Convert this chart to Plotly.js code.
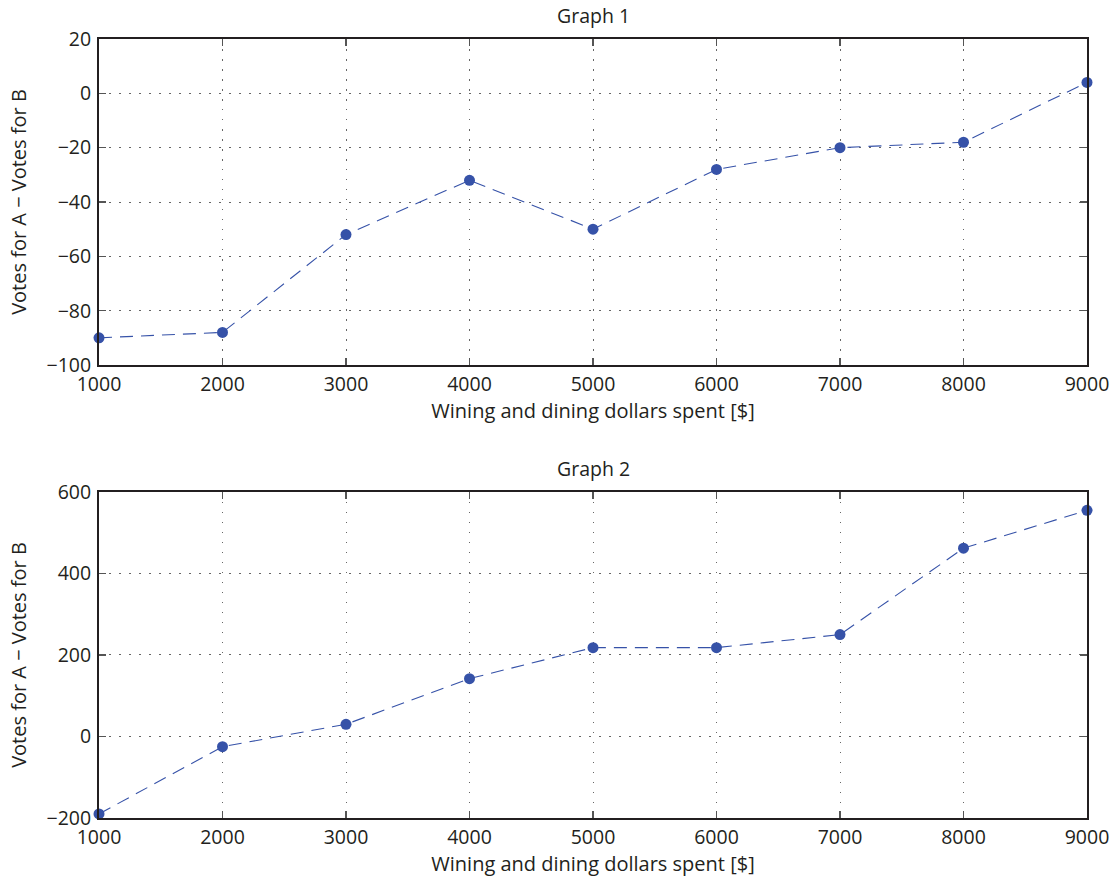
<!DOCTYPE html>
<html>
<head>
<meta charset="utf-8">
<script src="https://cdn.plot.ly/plotly-3.0.1.min.js"></script>
<style>html,body{margin:0;padding:0;background:#fff;}#chart{width:1112px;height:878px;}</style>
</head>
<body>
<div id="chart"></div>
<script>
const dollars = [1000, 2000, 3000, 4000, 5000, 6000, 7000, 8000, 9000];
const graph1Votes = [-90, -88, -52, -32, -50, -28, -20, -18, 4];
const graph2Votes = [-190, -25, 30, 142, 218, 218, 250, 462, 555];
const graph1Ticks = [-100, -80, -60, -40, -20, 0, 20];
const graph2Ticks = [-200, 0, 200, 400, 600];
const xTicks = [1000, 2000, 3000, 4000, 5000, 6000, 7000, 8000, 9000];

const blue = '#3652a8';
const ink = '#231f20';
const fontFam = 'Open Sans, Noto Sans, sans-serif';
const fs = 19.5;
const titleFs = 20;

function trace(y, xa, ya) {
  return {
    x: dollars, y: y, xaxis: xa, yaxis: ya, type: 'scatter', mode: 'lines+markers',
    line: {color: blue, width: 1.1, dash: '13px,8px'},
    marker: {color: blue, size: 11},
    showlegend: false, hoverinfo: 'none', cliponaxis: false
  };
}

const xBase = {
  range: [1000, 9000], tickvals: xTicks, ticktext: xTicks.map(String),
  showgrid: true, gridcolor: '#666', griddash: '1.5px,8.5px', gridwidth: 1,
  zeroline: false, showline: true, linecolor: ink, linewidth: 2, mirror: 'ticks',
  ticks: 'inside', ticklen: 7, tickcolor: '#555', tickwidth: 1.5,
  tickfont: {size: fs, color: ink, family: fontFam}, ticklabelstandoff: 1,
  title: {text: 'Wining and dining dollars spent [$]', font: {size: titleFs, color: ink, family: fontFam}, standoff: 1}
};

function yBase(range, ticks, domain) {
  return {
    range: range, tickvals: ticks, domain: domain,
    showgrid: true, gridcolor: '#666', griddash: '1.5px,8.5px', gridwidth: 1,
    zeroline: false, showline: true, linecolor: ink, linewidth: 2, mirror: 'ticks',
    ticks: 'inside', ticklen: 7, tickcolor: '#555', tickwidth: 1.5,
    tickfont: {size: fs, color: ink, family: fontFam}, ticklabelstandoff: 2,
    title: {text: 'Votes for A − Votes for B', font: {size: titleFs, color: ink, family: fontFam}, standoff: 14}
  };
}

const layout = {
  width: 1112, height: 878,
  margin: {l: 99, r: 25, t: 39, b: 60},
  paper_bgcolor: '#fff', plot_bgcolor: '#fff',
  font: {family: fontFam, color: ink},
  xaxis: Object.assign({}, xBase, {anchor: 'y'}),
  yaxis: yBase([-100, 20], graph1Ticks, [0.5815, 1]),
  xaxis2: Object.assign({}, xBase, {anchor: 'y2'}),
  yaxis2: yBase([-200, 600], graph2Ticks, [0, 0.4185]),
  annotations: [
    {text: 'Graph 1', xref: 'paper', yref: 'paper', x: 0.5, y: 1, yanchor: 'bottom', yshift: 8, showarrow: false, font: {size: fs, color: ink, family: fontFam}},
    {text: 'Graph 2', xref: 'paper', yref: 'paper', x: 0.5, y: 0.4185, yanchor: 'bottom', yshift: 8, showarrow: false, font: {size: fs, color: ink, family: fontFam}}
  ]
};

Plotly.newPlot('chart', [trace(graph1Votes, 'x', 'y'), trace(graph2Votes, 'x2', 'y2')], layout, {staticPlot: true, displayModeBar: false});
</script>
</body>
</html>
